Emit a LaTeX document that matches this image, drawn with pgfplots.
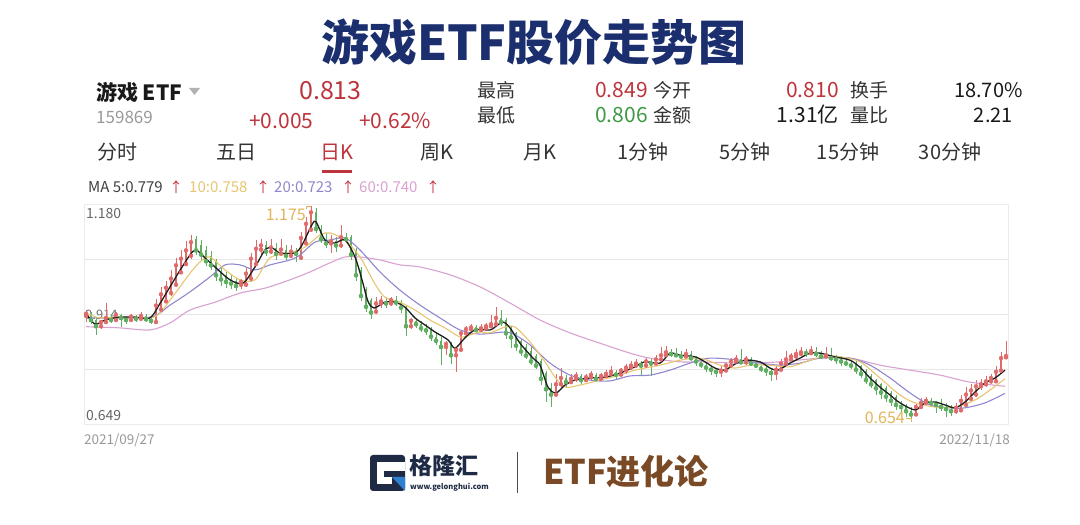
\documentclass[border=0pt]{standalone}
\usepackage{pgfplots}
\pgfplotsset{compat=1.18}
\usepackage{pgfplotstable}
\usepackage{fontspec}
\setmainfont{Noto Sans CJK SC}
\definecolor{navy}{HTML}{1B2F6E}
\definecolor{upred}{HTML}{E06A6A}
\definecolor{dngreen}{HTML}{5FAE62}
\definecolor{ma5}{HTML}{1E1E1E}
\definecolor{ma10}{HTML}{E8C670}
\definecolor{ma20}{HTML}{9088CC}
\definecolor{ma60}{HTML}{DAA2D2}
\definecolor{txtred}{HTML}{BE343C}
\definecolor{txtgreen}{HTML}{3E9A45}
\definecolor{gold}{HTML}{E2B45C}
\definecolor{brownc}{HTML}{7A4A26}
\definecolor{logonavy}{HTML}{1F2B45}
\definecolor{logoblue}{HTML}{2F80D1}
\definecolor{dark}{HTML}{333333}
\newcommand\fs[1]{\fontsize{#1bp}{#1bp}\selectfont}

\pgfplotstableread{
x o h l c
86 0.910 0.925 0.895 0.915
91 0.915 0.920 0.890 0.900
96 0.900 0.905 0.865 0.885
101 0.885 0.900 0.878 0.895
106 0.895 0.940 0.890 0.905
111 0.905 0.915 0.893 0.900
116 0.900 0.920 0.895 0.912
121 0.912 0.915 0.882 0.905
126 0.905 0.910 0.890 0.900
131 0.900 0.915 0.895 0.908
136 0.908 0.912 0.895 0.903
141 0.903 0.920 0.898 0.910
146 0.910 0.915 0.895 0.902
151 0.902 0.908 0.890 0.898
156 0.895 0.950 0.890 0.935
161 0.925 0.980 0.920 0.962
166 0.945 0.995 0.940 0.978
171 0.965 1.020 0.958 1.000
176 0.985 1.050 0.980 1.032
181 1.015 1.068 1.010 1.048
186 1.035 1.090 1.030 1.068
191 1.055 1.105 1.048 1.088
196 1.095 1.102 1.058 1.068
201 1.080 1.092 1.045 1.058
206 1.068 1.078 1.030 1.042
211 1.055 1.066 1.020 1.032
216 1.040 1.048 0.995 1.008
221 1.018 1.025 0.982 0.998
226 1.008 1.015 0.978 0.992
231 1.000 1.008 0.975 0.988
236 0.995 1.000 0.970 0.982
241 0.985 1.000 0.975 0.992
246 0.985 1.025 0.980 1.012
251 1.000 1.062 0.995 1.048
256 1.035 1.092 1.030 1.072
261 1.070 1.095 1.060 1.080
266 1.080 1.090 1.055 1.065
271 1.065 1.095 1.060 1.075
276 1.075 1.085 1.045 1.060
281 1.060 1.095 1.055 1.070
286 1.070 1.080 1.045 1.055
291 1.055 1.080 1.050 1.065
296 1.065 1.075 1.040 1.060
301 1.050 1.112 1.048 1.098
306 1.085 1.148 1.080 1.132
311 1.118 1.175 1.112 1.160
316 1.160 1.170 1.110 1.120
321 1.120 1.130 1.085 1.095
326 1.095 1.110 1.075 1.085
331 1.085 1.105 1.062 1.090
336 1.090 1.100 1.065 1.080
341 1.080 1.129 1.075 1.100
346 1.100 1.110 1.085 1.095
351 1.100 1.105 1.045 1.058
356 1.070 1.075 0.995 1.008
361 1.020 1.028 0.945 0.958
366 0.975 0.980 0.920 0.932
371 0.948 0.952 0.902 0.918
376 0.920 0.955 0.915 0.940
381 0.940 0.958 0.930 0.945
386 0.945 0.952 0.930 0.940
391 0.940 0.955 0.935 0.948
396 0.948 0.958 0.935 0.942
401 0.942 0.948 0.918 0.930
406 0.930 0.935 0.862 0.885
411 0.885 0.905 0.878 0.898
416 0.898 0.903 0.880 0.890
421 0.890 0.898 0.870 0.880
426 0.880 0.890 0.865 0.875
431 0.875 0.882 0.850 0.860
436 0.860 0.872 0.840 0.850
441 0.850 0.858 0.792 0.835
446 0.835 0.850 0.815 0.842
451 0.842 0.848 0.795 0.815
456 0.815 0.830 0.775 0.828
461 0.828 0.875 0.825 0.868
466 0.868 0.885 0.860 0.878
471 0.878 0.890 0.870 0.882
476 0.882 0.888 0.868 0.876
481 0.876 0.890 0.872 0.880
486 0.880 0.892 0.874 0.885
491 0.885 0.912 0.880 0.890
496 0.890 0.932 0.885 0.905
501 0.905 0.925 0.885 0.895
506 0.900 0.905 0.855 0.868
511 0.880 0.885 0.832 0.858
516 0.868 0.872 0.825 0.838
521 0.850 0.855 0.812 0.824
526 0.835 0.842 0.805 0.814
531 0.825 0.835 0.792 0.800
536 0.812 0.818 0.782 0.790
541 0.800 0.805 0.742 0.758
546 0.772 0.778 0.702 0.733
551 0.735 0.748 0.690 0.720
556 0.720 0.770 0.715 0.745
561 0.745 0.785 0.738 0.760
566 0.760 0.768 0.738 0.750
571 0.750 0.770 0.745 0.758
576 0.758 0.775 0.750 0.765
581 0.765 0.770 0.745 0.755
586 0.755 0.770 0.750 0.762
591 0.762 0.778 0.755 0.768
596 0.768 0.772 0.750 0.758
601 0.758 0.772 0.752 0.765
606 0.765 0.780 0.760 0.770
611 0.770 0.790 0.765 0.775
616 0.775 0.780 0.755 0.768
621 0.768 0.785 0.765 0.778
626 0.778 0.795 0.770 0.785
631 0.785 0.802 0.780 0.790
636 0.790 0.805 0.785 0.795
641 0.795 0.800 0.765 0.790
646 0.790 0.808 0.785 0.800
651 0.800 0.805 0.765 0.795
656 0.795 0.815 0.790 0.805
661 0.805 0.835 0.800 0.815
666 0.815 0.838 0.810 0.822
671 0.822 0.830 0.810 0.818
676 0.818 0.832 0.810 0.815
681 0.815 0.825 0.805 0.812
686 0.812 0.830 0.808 0.818
691 0.818 0.825 0.800 0.808
696 0.808 0.812 0.790 0.800
701 0.800 0.805 0.785 0.792
706 0.792 0.798 0.775 0.785
711 0.785 0.790 0.768 0.780
716 0.780 0.785 0.762 0.775
721 0.775 0.790 0.762 0.778
726 0.778 0.798 0.774 0.790
731 0.790 0.808 0.785 0.800
736 0.800 0.815 0.795 0.805
741 0.805 0.830 0.795 0.798
746 0.798 0.812 0.792 0.805
751 0.805 0.810 0.790 0.795
756 0.795 0.802 0.785 0.790
761 0.790 0.795 0.775 0.782
766 0.782 0.790 0.765 0.778
771 0.778 0.782 0.752 0.772
776 0.772 0.790 0.755 0.780
781 0.780 0.805 0.778 0.795
786 0.795 0.825 0.790 0.805
791 0.805 0.820 0.800 0.812
796 0.812 0.830 0.805 0.818
801 0.818 0.835 0.812 0.822
806 0.822 0.830 0.810 0.820
811 0.820 0.838 0.815 0.825
816 0.825 0.835 0.810 0.818
821 0.818 0.825 0.805 0.812
826 0.812 0.835 0.808 0.815
831 0.815 0.832 0.800 0.808
836 0.808 0.815 0.795 0.805
841 0.805 0.812 0.790 0.800
846 0.800 0.808 0.788 0.795
851 0.795 0.800 0.782 0.790
856 0.795 0.800 0.770 0.780
861 0.788 0.792 0.760 0.770
866 0.778 0.782 0.745 0.755
871 0.765 0.770 0.735 0.745
876 0.755 0.758 0.720 0.735
881 0.745 0.748 0.710 0.725
886 0.735 0.740 0.702 0.715
891 0.725 0.728 0.692 0.705
896 0.715 0.718 0.682 0.695
901 0.695 0.705 0.678 0.690
906 0.690 0.698 0.665 0.680
911 0.680 0.690 0.654 0.672
916 0.672 0.700 0.668 0.690
921 0.690 0.712 0.685 0.700
926 0.700 0.715 0.695 0.705
931 0.705 0.712 0.690 0.700
936 0.700 0.705 0.675 0.695
941 0.695 0.710 0.680 0.690
946 0.690 0.700 0.665 0.685
951 0.685 0.695 0.668 0.680
956 0.680 0.700 0.672 0.688
961 0.682 0.720 0.678 0.705
966 0.695 0.738 0.692 0.720
971 0.710 0.745 0.705 0.730
976 0.720 0.755 0.715 0.740
981 0.740 0.758 0.732 0.745
986 0.745 0.765 0.738 0.752
991 0.752 0.770 0.745 0.760
996 0.752 0.788 0.748 0.775
1001 0.778 0.822 0.775 0.808
1006 0.810 0.849 0.806 0.813
}\candles

\begin{document}
\begin{tikzpicture}
\path[use as bounding box, fill=white] (0,0) rectangle (1080bp,525bp);

\begin{axis}[at={(84bp,101bp)}, anchor=south west, scale only axis,
  width=924bp, height=220bp, xmin=84, xmax=1008, ymin=0.649, ymax=1.180,
  axis line style={draw=black!8}, xtick=\empty,
  ytick={0.78175,0.9145,1.04725}, yticklabels={}, major tick length=0pt,
  ymajorgrids, major grid style={draw=black!9, line width=0.8bp},
  clip=false]
\node[anchor=west, font=\fs{14}, text=black!60, inner sep=0] at (axis cs:86,1.158) {1.180};
\node[anchor=west, font=\fs{14}, text=black!60, inner sep=0] at (axis cs:86,0.670) {0.649};
\node[anchor=west, font=\fs{13}, text=black!55, inner sep=0] at (axis cs:85,0.912) {0.914};
% wicks
\addplot[upred, only marks, mark=none, restrict expr to domain={\thisrow{c}-\thisrow{o}}{0:1},
  error bars/.cd, y dir=both, y explicit, error mark=none, error bar style={line width=0.8bp, upred}]
  table[x=x, y=c, y error plus expr=\thisrow{h}-\thisrow{c}, y error minus expr=\thisrow{c}-\thisrow{l}] {\candles};
\addplot[dngreen, only marks, mark=none, restrict expr to domain={\thisrow{c}-\thisrow{o}}{-1:-0.0005},
  error bars/.cd, y dir=both, y explicit, error mark=none, error bar style={line width=0.8bp, dngreen}]
  table[x=x, y=c, y error plus expr=\thisrow{h}-\thisrow{c}, y error minus expr=\thisrow{c}-\thisrow{l}] {\candles};
% bodies
\addplot[upred, only marks, mark=none, restrict expr to domain={\thisrow{c}-\thisrow{o}}{0:1},
  error bars/.cd, y dir=plus, y explicit, error mark=none, error bar style={line width=2bp, upred}]
  table[x=x, y=o, y error plus expr=\thisrow{c}-\thisrow{o}] {\candles};
\addplot[dngreen, only marks, mark=none, restrict expr to domain={\thisrow{c}-\thisrow{o}}{-1:-0.0005},
  error bars/.cd, y dir=plus, y explicit, error mark=none, error bar style={line width=2bp, dngreen}]
  table[x=x, y=c, y error plus expr=\thisrow{o}-\thisrow{c}] {\candles};
% MA60
\addplot[ma60, line width=1.1bp, smooth, mark=none] coordinates {
(86,0.884) (95,0.883) (120,0.881) (150,0.876) (170,0.893) (190,0.924) (215,0.943) (240,0.965)
(265,0.977) (290,0.997) (310,1.016) (330,1.038) (345,1.052) (360,1.052) (380,1.045) (400,1.033)
(420,1.028) (450,1.009) (480,0.980) (510,0.941) (540,0.900) (570,0.869) (600,0.844) (630,0.820)
(650,0.808) (680,0.799) (700,0.799) (740,0.796) (780,0.799) (820,0.808) (850,0.808) (880,0.791)
(910,0.779) (940,0.767) (970,0.750) (1005,0.740)};
% MA20
\addplot[ma20, line width=1.1bp, smooth, mark=none] coordinates {
(86,0.906) (95,0.905) (150,0.907) (170,0.936) (190,0.968) (210,1.004) (225,1.033) (240,1.033)
(255,1.021) (270,1.033) (290,1.045) (300,1.057) (315,1.088) (330,1.093) (345,1.098) (360,1.069)
(380,1.016) (400,0.972) (420,0.936) (440,0.905) (460,0.876) (480,0.866) (505,0.871) (515,0.864)
(530,0.840) (550,0.796) (570,0.767) (590,0.755) (610,0.753) (630,0.765) (650,0.767) (670,0.779)
(690,0.796) (710,0.808) (740,0.803) (760,0.796) (780,0.791) (800,0.796) (820,0.808) (850,0.808)
(870,0.791) (890,0.760) (910,0.724) (930,0.695) (950,0.688) (965,0.688) (985,0.700) (1005,0.723)};
% MA10
\addplot[ma10, line width=1.1bp, smooth, mark=none] coordinates {
(86,0.917) (100,0.905) (120,0.907) (150,0.905) (160,0.917) (170,0.948) (180,0.980) (190,1.013)
(200,1.040) (210,1.052) (225,1.021) (240,0.997) (255,0.997) (270,1.050) (290,1.062) (305,1.076)
(320,1.105) (330,1.110) (345,1.093) (360,1.052) (375,0.987) (385,0.955) (400,0.943) (415,0.924)
(430,0.900) (445,0.881) (460,0.859) (470,0.864) (480,0.871) (490,0.869) (505,0.883) (515,0.883)
(530,0.847) (545,0.799) (555,0.762) (565,0.738) (580,0.743) (600,0.755) (620,0.767) (635,0.779)
(660,0.791) (680,0.803) (700,0.808) (720,0.791) (735,0.784) (750,0.791) (770,0.791) (790,0.787)
(810,0.803) (825,0.813) (840,0.811) (860,0.799) (880,0.760) (900,0.719) (915,0.700) (935,0.690)
(955,0.690) (975,0.707) (990,0.731) (1005,0.758)};
% MA5
\addplot[ma5, line width=1.3bp, smooth, mark=none] coordinates {
(86,0.917) (95,0.890) (105,0.900) (120,0.907) (135,0.907) (150,0.905) (160,0.940) (170,0.980)
(180,1.020) (190,1.057) (196,1.069) (205,1.050) (215,1.028) (230,0.997) (243,0.989) (255,1.028)
(265,1.069) (272,1.074) (280,1.062) (295,1.062) (302,1.081) (312,1.130) (316,1.137) (325,1.093)
(335,1.086) (345,1.093) (355,1.052) (362,0.997) (368,0.945) (374,0.929) (385,0.943) (395,0.943)
(405,0.931) (415,0.905) (425,0.888) (435,0.871) (448,0.852) (455,0.832) (465,0.857) (475,0.876)
(490,0.876) (495,0.883) (503,0.895) (510,0.881) (520,0.844) (533,0.808) (540,0.791) (548,0.738)
(556,0.724) (565,0.743) (575,0.755) (590,0.760) (605,0.762) (620,0.772) (635,0.787) (645,0.799)
(660,0.796) (670,0.820) (680,0.815) (695,0.811) (705,0.799) (715,0.784) (725,0.779) (733,0.791)
(745,0.803) (760,0.799) (770,0.784) (778,0.779) (790,0.796) (800,0.808) (810,0.820) (820,0.820)
(835,0.811) (850,0.803) (860,0.786) (870,0.760) (880,0.738) (890,0.719) (900,0.700) (915,0.683)
(925,0.700) (935,0.702) (945,0.695) (955,0.688) (965,0.702) (975,0.726) (985,0.748) (995,0.760)
(1005,0.779)};
\node[anchor=east, font=\fs{16}, text=gold, inner sep=0] at (axis cs:306,1.153) {1.175};
\draw[gold, line width=0.8bp] (axis cs:306,1.168) -- (axis cs:306,1.175) -- (axis cs:311,1.175);
\node[anchor=east, font=\fs{16}, text=gold, inner sep=0] at (axis cs:905,0.664) {0.654};
\draw[gold, line width=0.8bp] (axis cs:906,0.662) -- (axis cs:911,0.662) -- (axis cs:911,0.654);
\end{axis}

\begin{scope}[shift={(0,525bp)}, x=1bp, y=-1bp, every node/.style={inner sep=0}]
% title
\node[font=\fs{48}\bfseries, text=navy] at (534,42) {游戏ETF股价走势图};
% header
\node[anchor=west, font=\fs{21}\bfseries, text=black!90] at (96,92) {游戏 ETF};
\fill[black!30] (189,88) -- (200,88) -- (194.5,95) -- cycle;
\node[anchor=west, font=\fs{17}, text=black!40] at (96,117) {159869};
\node[anchor=west, font=\fs{25}, text=txtred] at (299,91) {0.813};
\node[anchor=west, font=\fs{21}, text=txtred] at (249,121) {+0.005};
\node[anchor=west, font=\fs{21}, text=txtred] at (359,121) {+0.62\%};
\node[anchor=west, font=\fs{19}, text=dark] at (477,90) {最高};
\node[anchor=west, font=\fs{19}, text=dark] at (477,115) {最低};
\node[anchor=west, font=\fs{21}, text=txtred] at (595,90) {0.849};
\node[anchor=west, font=\fs{21}, text=txtgreen] at (595,115) {0.806};
\node[anchor=west, font=\fs{19}, text=dark] at (653,90) {今开};
\node[anchor=west, font=\fs{19}, text=dark] at (653,115) {金额};
\node[anchor=east, font=\fs{21}, text=txtred] at (839,90) {0.810};
\node[anchor=east, font=\fs{21}, text=black!90] at (839,115) {1.31亿};
\node[anchor=west, font=\fs{19}, text=dark] at (850,90) {换手};
\node[anchor=west, font=\fs{19}, text=dark] at (850,115) {量比};
\node[anchor=west, font=\fs{20}, text=black!90] at (954,90) {18.70\%};
\node[anchor=east, font=\fs{20}, text=black!90] at (1013,115) {2.21};
% tabs
\node[font=\fs{20}, text=dark] at (117,152) {分时};
\node[font=\fs{20}, text=dark] at (236,152) {五日};
\node[font=\fs{20}, text=txtred] at (337,152) {日K};
\node[font=\fs{20}, text=dark] at (437,152) {周K};
\node[font=\fs{20}, text=dark] at (540,152) {月K};
\node[font=\fs{20}, text=dark] at (643,152) {1分钟};
\node[font=\fs{20}, text=dark] at (745,152) {5分钟};
\node[font=\fs{20}, text=dark] at (848,152) {15分钟};
\node[font=\fs{20}, text=dark] at (950,152) {30分钟};
\draw[txtred, line width=3bp] (322,172) -- (352,172);
% MA legend
\node[anchor=west, font=\fs{15}, text=black!75] at (88,187) {MA 5:0.779};
\node[anchor=west, font=\fs{14}, text=txtred] at (169,187) {↑};
\node[anchor=west, font=\fs{15}, text=ma10] at (189,187) {10:0.758};
\node[anchor=west, font=\fs{14}, text=txtred] at (256,187) {↑};
\node[anchor=west, font=\fs{15}, text=ma20] at (274,187) {20:0.723};
\node[anchor=west, font=\fs{14}, text=txtred] at (341,187) {↑};
\node[anchor=west, font=\fs{15}, text=ma60] at (359,187) {60:0.740};
\node[anchor=west, font=\fs{14}, text=txtred] at (426,187) {↑};
% dates
\node[anchor=west, font=\fs{13.5}, text=black!40] at (84,440) {2021/09/27};
\node[anchor=east, font=\fs{13.5}, text=black!40] at (1010,440) {2022/11/18};
% footer logo
\fill[logonavy, rounded corners=3bp] (370,455) rectangle (405,491);
\fill[white] (377,462) rectangle (405,471);
\fill[white] (377,471) rectangle (384,484);
\fill[white] (384,477) rectangle (392,484);
\fill[logoblue] (392,477) -- (405,477) -- (405,491) -- cycle;
\node[anchor=west, font=\fs{23}\bfseries, text=logonavy] at (409,466) {格隆汇};
\node[anchor=west, font=\fs{7.5}\bfseries, text=logonavy] at (410,487) {www.gelonghui.com};
\draw[black!70, line width=1bp] (517,452) -- (517,493);
\node[anchor=west, font=\fs{34}\bfseries, text=brownc] at (543,472) {ETF进化论};
\end{scope}
\end{tikzpicture}
\end{document}
